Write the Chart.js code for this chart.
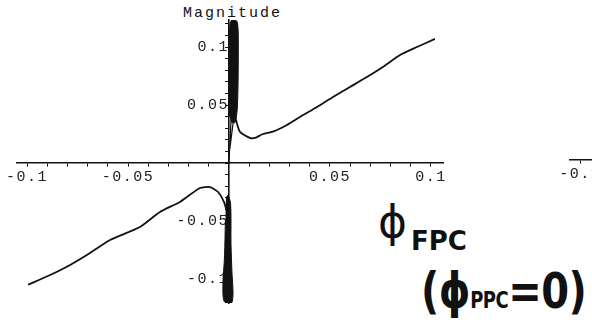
<!DOCTYPE html>
<html>
<head>
<meta charset="utf-8">
<script src="https://cdn.jsdelivr.net/npm/chart.js@4/dist/chart.umd.min.js"></script>
<style>
  html, body { margin: 0; padding: 0; background: #fff; overflow: hidden; }
  body { width: 592px; height: 326px; position: relative; }
  .txt { position: absolute; color: #111; white-space: nowrap; }
  #title { left: 183px; top: 5px; font: 15px 'Liberation Mono', 'Courier New', monospace; letter-spacing: 2px; }
  #main { position: absolute; left: 0; top: 0; z-index: 1; }
  #frag { position: absolute; left: 550px; top: 140px; z-index: 1; }
  .hand { font-family: 'DejaVu Sans', sans-serif; font-weight: bold; }
</style>
</head>
<body>
<div id="title" class="txt">Magnitude</div>
<canvas id="main" width="592" height="326"></canvas>
<canvas id="frag" width="300" height="40"></canvas>
<div class="txt hand" style="left:378px; top:196px; font-size:44px; font-weight:normal;">ϕ</div>
<div class="txt hand" style="left:411px; top:226px; font-size:26px;">FPC</div>
<div class="txt hand" style="left:421px; top:262px; font-size:40px; letter-spacing:-0.5px; transform: scaleY(1.25); transform-origin: left top;">(ϕ<span style="font-size:18px;">PPC</span>=0)</div>
<script>
// courbe de droite (x > 0)
const rightX = [0.003, 0.0054, 0.0104, 0.0129, 0.0168, 0.0218, 0.0287, 0.0351, 0.0436, 0.0515, 0.0599, 0.0683, 0.0762, 0.0847, 0.0931, 0.102];
const rightY = [0.040, 0.027, 0.0216, 0.0216, 0.025, 0.027, 0.0328, 0.0397, 0.0483, 0.0569, 0.0655, 0.0741, 0.0828, 0.0931, 0.1, 0.107];

// courbe de gauche (x < 0)
const leftX = [-0.0995, -0.0886, -0.0787, -0.0688, -0.0589, -0.0441, -0.0342, -0.0243, -0.0144, -0.0094, -0.0054, -0.0025, -0.001];
const leftY = [-0.105, -0.0966, -0.0879, -0.0776, -0.0664, -0.0552, -0.0422, -0.0336, -0.0216, -0.0207, -0.025, -0.0336, -0.042];

// pic du haut (bande noire) et traits fins vers l'origine
const topBandX = [0.0003, 0.0002, 0.0008, 0.0025, 0.0042, 0.0046, 0.0042, 0.003, 0.0012];
const topBandY = [0.04, 0.11, 0.122, 0.124, 0.121, 0.10, 0.05, 0.035, 0.035];
const spikeLinesX = [0, 0.0012, 0.0004, 0.0028];
const spikeLinesY = [0, 0.045, 0.012, 0.045];

// pic du bas
const bottomBandX = [-0.0015, -0.0005, 0.0008, 0.001, 0.0015, 0.002, 0.0015, 0, -0.0025, -0.003, -0.0022, -0.0018];
const bottomBandY = [-0.03, -0.028, -0.035, -0.07, -0.095, -0.112, -0.12, -0.1215, -0.119, -0.105, -0.08, -0.05];

// graduations
const tickValues = [-0.1, -0.09, -0.08, -0.07, -0.06, -0.05, -0.04, -0.03, -0.02, -0.01, 0, 0.01, 0.02, 0.03, 0.04, 0.05, 0.06, 0.07, 0.08, 0.09, 0.1];
const yTickValues = [-0.12, -0.11, -0.1, -0.09, -0.08, -0.07, -0.06, -0.05, -0.04, -0.03, -0.02, -0.01, 0, 0.01, 0.02, 0.03, 0.04, 0.05, 0.06, 0.07, 0.08, 0.09, 0.1, 0.11, 0.12];
const majorValues = [-0.1, -0.05, 0.05, 0.1];
const majorLabels = ['-0.1', '-0.05', '0.05', '0.1'];

const tickFont = { family: "'Liberation Mono', 'Courier New', monospace", size: 15 };

function toPoints(xs, ys) {
    return xs.map((x, i) => ({ x: x, y: ys[i] }));
}

function majorLabel(value) {
    const idx = majorValues.findIndex(m => Math.abs(m - value) < 1e-9);
    return idx >= 0 ? majorLabels[idx] : '';
}

function lineSet(xs, ys, extra) {
    return Object.assign({
        data: toPoints(xs, ys),
        showLine: true,
        borderColor: '#111',
        borderWidth: 1.8,
        pointRadius: 0,
        tension: 0.2,
        fill: false
    }, extra || {});
}

// espacement des lettres façon Mathematica
const spacing = {
    id: 'spacing',
    beforeDraw: chart => { chart.ctx.letterSpacing = '1.5px'; }
};

function xAxis(min, max) {
    return {
        type: 'linear',
        min: min,
        max: max,
        position: { y: 0 },
        afterBuildTicks: scale => { scale.ticks = tickValues.map(v => ({ value: v })); },
        afterFit: scale => { scale.height = 0; },
        border: { color: '#111', width: 1.6 },
        grid: { drawOnChartArea: false, drawTicks: true, tickLength: 3, color: '#111' },
        ticks: { autoSkip: false, maxRotation: 0, padding: 2, color: '#222', font: tickFont, callback: v => majorLabel(v) }
    };
}

new Chart(document.getElementById('main'), {
    type: 'scatter',
    data: {
        datasets: [
            lineSet(rightX, rightY),
            lineSet(leftX, leftY),
            lineSet(spikeLinesX, spikeLinesY, { tension: 0, borderWidth: 1.2 }),
            lineSet(topBandX, topBandY, { tension: 0.3, fill: 'shape', backgroundColor: '#111', borderWidth: 1 }),
            lineSet(bottomBandX, bottomBandY, { tension: 0.3, fill: 'shape', backgroundColor: '#111', borderWidth: 1 })
        ]
    },
    options: {
        responsive: false,
        animation: false,
        layout: { padding: { left: 17, right: 149, top: 20, bottom: 23 } },
        plugins: { legend: { display: false }, tooltip: { enabled: false } },
        scales: {
            x: xAxis(-0.105, 0.106),
            y: {
                type: 'linear',
                min: -0.1207,
                max: 0.1233,
                position: { x: 0 },
                afterBuildTicks: scale => { scale.ticks = yTickValues.map(v => ({ value: v })); },
                afterFit: scale => { scale.width = 0; },
                border: { color: '#111', width: 1.6 },
                grid: { drawOnChartArea: false, drawTicks: true, tickLength: 3, color: '#111' },
                ticks: { autoSkip: false, padding: -1, color: '#222', font: tickFont, callback: v => majorLabel(v) }
            }
        }
    },
    plugins: [spacing]
});

// fragment du graphique voisin, coupé par le bord droit
new Chart(document.getElementById('frag'), {
    type: 'scatter',
    data: { datasets: [] },
    options: {
        responsive: false,
        animation: false,
        layout: { padding: { left: 20, right: 0, top: 0, bottom: 0 } },
        plugins: { legend: { display: false }, tooltip: { enabled: false } },
        scales: {
            x: xAxis(-0.108, 0.03),
            y: { type: 'linear', min: -1, max: 1, display: false }
        }
    },
    plugins: [spacing]
});
</script>
</body>
</html>
